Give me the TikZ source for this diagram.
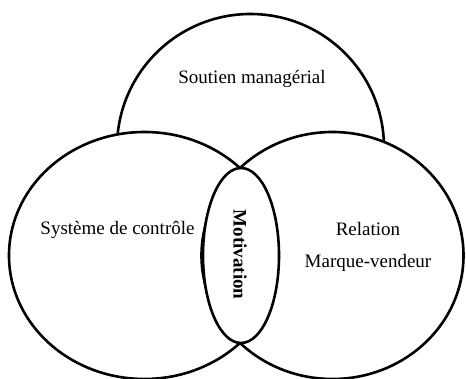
\documentclass[tikz,border=0pt]{standalone}
\usepackage{fontspec}
\setmainfont{Liberation Serif}
\begin{document}
\begin{tikzpicture}[x=1pt,y=-1pt,
  setshape/.style={draw=black, line width=2.6pt, fill=white},
  lbl/.style={font=\fontsize{19}{23}\selectfont, text=black, align=center, inner sep=0pt}]
\useasboundingbox (0,0) rectangle (466,379);
\draw[setshape] (250.5,147.5) circle[radius=133.5pt];
\node[lbl] (sm) at (252,79) {Soutien managérial};
\draw[setshape] (144.4,255.5) ellipse[x radius=135.4pt, y radius=123.5pt];
\draw[setshape] (332.5,255.5) ellipse[x radius=131pt, y radius=123.5pt];
\draw[setshape] (241,255.5) ellipse[x radius=38pt, y radius=87.5pt];
\node[lbl] (sc) at (117.5,230) {Système de contrôle};
\node[lbl] (rel) at (368,229) {Relation};
\node[lbl] (mv) at (368,263) {Marque-vendeur};
\node[lbl, font=\fontsize{19}{23}\selectfont\bfseries, rotate=-90] (mot) at (240,254.5) {Motivation};
\end{tikzpicture}
\end{document}
